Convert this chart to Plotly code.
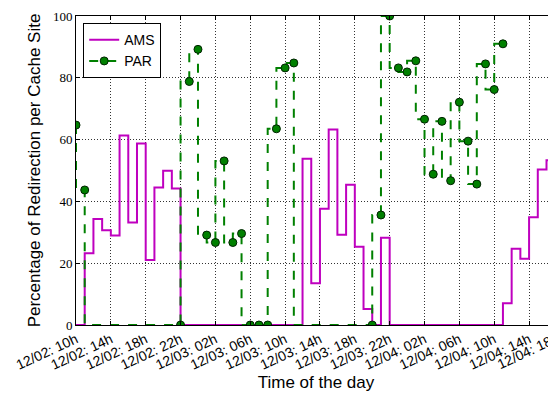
import plotly.graph_objects as go

# Hours after 12/02 10h
ams_hours = list(range(0, 57))
ams_values = [0, 0, 23.2, 34.3, 30.7, 29.0, 61.3, 33.2, 58.7, 21.0, 44.5, 49.9, 44.2,
              0, 0, 0, 0, 0, 0, 0, 0, 0, 0, 0, 0, 0, 0,
              53.8, 13.5, 37.6, 63.3, 29.2, 45.4, 25.3, 5.2, 0, 28.2,
              0, 0, 0, 0, 0, 0, 0, 0, 0, 0, 0, 0, 0,
              7.0, 24.7, 21.4, 34.9, 50.3, 53.3, 3.2]

par_hours = [0, 1, 12, 13, 14, 15, 16, 17, 18, 19, 20, 21, 22, 23, 24, 25,
             34, 35, 36, 37, 38, 39, 40, 41, 42, 43, 44, 45, 46, 47, 48, 49]
par_values = [64.7, 43.7, 0, 78.8, 89.2, 29.1, 26.7, 53.1, 26.7, 29.6, 0, 0, 0, 63.5, 83.2, 84.8,
              0, 35.6, 100, 83.2, 81.9, 85.5, 66.6, 48.8, 65.9, 46.7, 72.1, 59.5, 45.6, 84.5, 76.2, 91.0]

tick_hours = [0, 4, 8, 12, 16, 20, 24, 28, 32, 36, 40, 44, 48, 52]
tick_labels = ["12/02: 10h", "12/02: 14h", "12/02: 18h", "12/02: 22h",
               "12/03: 02h", "12/03: 06h", "12/03: 10h", "12/03: 14h",
               "12/03: 18h", "12/03: 22h", "12/04: 02h", "12/04: 06h",
               "12/04: 10h", "12/04: 14h"]
extra_tick_hour = 56
extra_tick_label = "12/04: 18h"

x_max = 55.09

fig = go.Figure()
fig.add_trace(go.Scatter(x=ams_hours, y=ams_values, mode="lines", name="AMS",
                         line=dict(color="#bf00bf", width=2, shape="vh")))
fig.add_trace(go.Scatter(x=par_hours, y=par_values, mode="lines+markers", name="PAR",
                         line=dict(color="#008000", width=2, shape="vh", dash="dash"),
                         marker=dict(size=8, color="#008000", line=dict(color="#002200", width=1))))

fig.update_layout(
    width=548, height=388,
    margin=dict(l=68, r=0, t=8, b=71, autoexpand=False),
    plot_bgcolor="white", paper_bgcolor="white",
    showlegend=True,
    legend=dict(x=0.015, y=0.977, xanchor="left", yanchor="top",
                bgcolor="white", bordercolor="black", borderwidth=1,
                font=dict(family="Liberation Sans", size=14, color="black")),
    xaxis=dict(range=[0, x_max], tickvals=tick_hours, ticktext=tick_labels,
               tickangle=-25, ticks="inside", ticklen=4, tickcolor="black",
               showline=True, linecolor="black", linewidth=1, mirror="ticks",
               showgrid=True, gridcolor="rgba(0,0,0,0.8)", griddash="1px,2px", gridwidth=1,
               zeroline=False, automargin=False,
               tickfont=dict(family="Liberation Sans", size=14, color="black"),
               title=dict(text="Time of the day", standoff=2,
                          font=dict(family="Liberation Sans", size=17, color="black"))),
    yaxis=dict(range=[0, 100], tickvals=[0, 20, 40, 60, 80, 100],
               ticks="inside", ticklen=4, tickcolor="black",
               showline=True, linecolor="black", linewidth=1,
               showgrid=True, gridcolor="rgba(0,0,0,0.8)", griddash="1px,2px", gridwidth=1,
               zeroline=False, automargin=False,
               tickfont=dict(family="Liberation Serif", size=13, color="black"),
               title=dict(text="Percentage of Redirection per Cache Site", standoff=7,
                          font=dict(family="Liberation Sans", size=17, color="black"))),
)

fig.add_annotation(x=extra_tick_hour / x_max, y=0, xref="paper", yref="paper",
                   text=extra_tick_label, showarrow=False, textangle=-25,
                   xanchor="right", yanchor="top", yshift=-2,
                   font=dict(family="Liberation Sans", size=14, color="black"))

fig.write_html("out.html")
